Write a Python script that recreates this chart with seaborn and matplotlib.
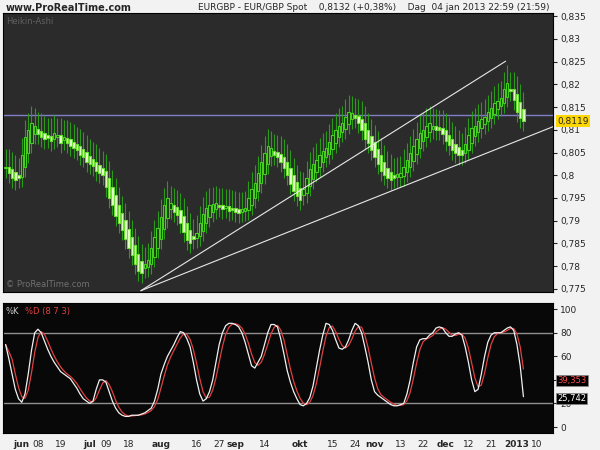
import numpy as np
import pandas as pd
import matplotlib
matplotlib.use('Agg')
import matplotlib.pyplot as plt
import seaborn as sns

# daily closes (EUR/GBP), 25 may 2012 - 04 jan 2013
close = [.8015, .8005, .7995, .7990, .7995, .8040, .8080, .8095, .8110, .8105,
         .8090, .8085, .8080, .8082, .8075, .8090, .8085, .8070, .8080, .8072,
         .8065, .8060, .8056, .8045, .8040, .8030, .8025, .8020, .8010, .8005,
         .8000, .7975, .7950, .7935, .7910, .7895, .7880, .7860, .7840, .7825,
         .7805, .7790, .7785, .7800, .7810, .7835, .7860, .7880, .7905, .7930,
         .7945, .7935, .7920, .7913, .7895, .7875, .7858, .7850, .7860, .7870,
         .7890, .7910, .7924, .7930, .7932, .7935, .7930, .7925, .7928, .7922,
         .7924, .7920, .7918, .7922, .7924, .7945, .7965, .7980, .8000, .8025,
         .8045, .8060, .8056, .8045, .8040, .8030, .8015, .8000, .7980, .7965,
         .7955, .7946, .7965, .7990, .8010, .8020, .8030, .8040, .8050, .8056,
         .8070, .8085, .8095, .8105, .8110, .8125, .8135, .8133, .8125, .8115,
         .8100, .8080, .8070, .8056, .8040, .8025, .8010, .8000, .7995, .7990,
         .7995, .7998, .8000, .8015, .8030, .8045, .8060, .8075, .8090, .8095,
         .8105, .8110, .8105, .8100, .8100, .8090, .8075, .8067, .8055, .8050,
         .8045, .8045, .8065, .8085, .8100, .8105, .8115, .8120, .8125, .8135,
         .8144, .8155, .8160, .8166, .8185, .8200, .8185, .8166, .8140, .8125,
         .8119]

# stochastic %K (8 7 3)
stoch_k = [70, 58, 45, 32, 24, 21, 28, 45, 65, 80,
           83, 80, 73, 66, 60, 55, 51, 47, 45, 43,
           41, 37, 33, 28, 24, 22, 20, 22, 32, 40,
           40, 38, 30, 22, 16, 12, 10, 9, 9, 10,
           10, 10, 11, 12, 14, 16, 22, 32, 45, 53,
           60, 65, 70, 76, 81, 80, 75, 68, 55, 40,
           28, 22, 24, 30, 40, 55, 70, 80, 86, 88,
           88, 87, 85, 80, 72, 62, 52, 50, 55, 60,
           70, 80, 87, 87, 85, 75, 62, 48, 38, 30,
           24, 19, 18, 20, 25, 35, 50, 65, 78, 88,
           87, 82, 74, 67, 66, 68, 74, 82, 88, 86,
           80, 68, 55, 40, 30, 27, 25, 23, 21, 19,
           18, 18, 19, 20, 28, 40, 55, 68, 74, 75,
           75, 78, 80, 84, 85, 84, 80, 77, 77, 79,
           80, 78, 68, 55, 40, 30, 32, 45, 60, 72,
           78, 80, 80, 80, 82, 84, 85, 82, 70, 52,
           25.742]

tick_dates = ['2012-06-01', '2012-06-08', '2012-06-19', '2012-07-02', '2012-07-09', '2012-07-18',
              '2012-08-01', '2012-08-16', '2012-08-27', '2012-09-03', '2012-09-14', '2012-10-01',
              '2012-10-15', '2012-10-24', '2012-11-01', '2012-11-13', '2012-11-22', '2012-12-03',
              '2012-12-12', '2012-12-21', '2013-01-02', '2013-01-10']
tick_labels = ['jun', '08', '19', 'jul', '09', '18', 'aug', '16', '27', 'sep', '14', 'okt',
               '15', '24', 'nov', '13', '22', 'dec', '12', '21', '2013', '10']

days = pd.bdate_range('2012-05-25', '2013-01-31')
pos = {d: i for i, d in enumerate(days)}
tick_pos = [pos[pd.Timestamp(d)] for d in tick_dates]

df = pd.DataFrame({'close': close, 'k': stoch_k})
df['i'] = np.arange(len(df))
ha_open = [close[0]]
for j in range(1, len(close)):
    ha_open.append((ha_open[-1] + close[j - 1]) / 2)
df['open'] = ha_open
df['top'] = df[['open', 'close']].max(axis=1)
df['bot'] = df[['open', 'close']].min(axis=1)
df['d'] = df['k'].rolling(3, min_periods=1).mean()

sns.set_style('white')
plt.rcParams['font.family'] = ['DejaVu Sans']
fig = plt.figure(figsize=(6, 4.5), dpi=100, facecolor='#f2f2f2')
ax1 = fig.add_axes([0.005, 0.351, 0.917, 0.62])
ax2 = fig.add_axes([0.005, 0.038, 0.917, 0.288], sharex=ax1)

# price panel
ax1.set_facecolor('#2b2b2b')
up = df['close'] >= df['open']
ax1.vlines(df['i'], df['bot'] - 0.0022, df['top'] + 0.0042, color='#2a9a18', lw=0.8, zorder=2)
ax1.bar(df['i'][up], (df['top'] - df['bot'])[up] + 0.0004, bottom=df['bot'][up], width=0.75,
        color='#1a3a10', edgecolor='#45d020', lw=0.8, zorder=3)
ax1.bar(df['i'][~up], (df['top'] - df['bot'])[~up] + 0.0004, bottom=df['bot'][~up], width=0.75,
        color='#e8ffd0', edgecolor='#6ae030', lw=0.8, zorder=3)
ax1.axhline(0.8132, color='#7f7fc8', lw=1, zorder=1)
ax1.plot([41.8, 154.5], [0.7746, 0.8251], color='#e8e8e8', lw=0.8, zorder=4)
ax1.plot([41.8, 172], [0.7746, 0.8115], color='#e8e8e8', lw=0.8, zorder=4)
ax1.set_ylim(0.7743, 0.8357)
ax1.set_xlim(-0.8, 169.2)
yt = np.arange(0.775, 0.8351, 0.005)
ax1.yaxis.tick_right()
ax1.set_yticks(yt)
ax1.set_yticklabels([f'{v:.3f}'.rstrip('0').replace('.', ',') for v in yt], fontsize=6.5)
ax1.tick_params(axis='y', length=3, pad=2)
ax1.tick_params(axis='x', bottom=False, labelbottom=False)
ax1.annotate('0,8119', xy=(1.0, 0.8119), xycoords=('axes fraction', 'data'), xytext=(3, 0),
             textcoords='offset points', va='center', fontsize=6.5,
             bbox=dict(boxstyle='square,pad=0.15', fc='#ffd700', ec='none'))
ax1.text(0.005, 0.985, 'Heikin-Ashi', transform=ax1.transAxes, color='#606060', fontsize=6, va='top')
ax1.text(0.005, 0.01, '© ProRealTime.com', transform=ax1.transAxes, color='#707070', fontsize=6, va='bottom')

# stochastic panel
ax2.set_facecolor('#080808')
ax2.axhline(80, color='#909090', lw=1)
ax2.axhline(20, color='#909090', lw=1)
sns.lineplot(data=df, x='i', y='d', ax=ax2, color='#e04040', lw=0.9)
sns.lineplot(data=df, x='i', y='k', ax=ax2, color='#f0f0f0', lw=0.9)
ax2.set_ylim(-5, 105)
ax2.yaxis.tick_right()
ax2.set_yticks([0, 20, 40, 60, 80, 100])
ax2.set_yticklabels(['0', '20', '40', '60', '80', '100'], fontsize=6.5)
ax2.tick_params(axis='y', length=3, pad=2)
ax2.set_xticks(tick_pos)
ax2.set_xticklabels(tick_labels, fontsize=6.5)
for lab in ax2.get_xticklabels():
    if not lab.get_text().isdigit() or lab.get_text() == '2013':
        lab.set_fontweight('bold')
ax2.tick_params(axis='x', length=3, pad=2)
ax2.set_xlabel('')
ax2.set_ylabel('')
ax2.text(0.005, 0.97, '%K', transform=ax2.transAxes, color='#d0d0d0', fontsize=6, va='top')
ax2.text(0.04, 0.97, '%D (8 7 3)', transform=ax2.transAxes, color='#e04040', fontsize=6, va='top')
for val, ypos, tc in [(39.353, 39.353, '#ff5050'), (25.742, 24.5, '#ffffff')]:
    ax2.annotate(f'{val:.3f}'.replace('.', ','), xy=(1.0, ypos), xycoords=('axes fraction', 'data'),
                 xytext=(3, 0), textcoords='offset points', va='center', fontsize=6, color=tc,
                 bbox=dict(boxstyle='square,pad=0.12', fc='#000000', ec='#888888', lw=0.5))

for a in (ax1, ax2):
    for s in a.spines.values():
        s.set_color('#000000')
        s.set_linewidth(0.8)

fig.text(0.01, 0.983, 'www.ProRealTime.com', fontsize=7, fontweight='bold', va='center')
fig.text(0.33, 0.983, 'EURGBP - EUR/GBP Spot    0,8132 (+0,38%)    Dag  04 jan 2013 22:59 (21:59)',
         fontsize=6.5, va='center')

fig.savefig('out.png', dpi=100, facecolor=fig.get_facecolor())
